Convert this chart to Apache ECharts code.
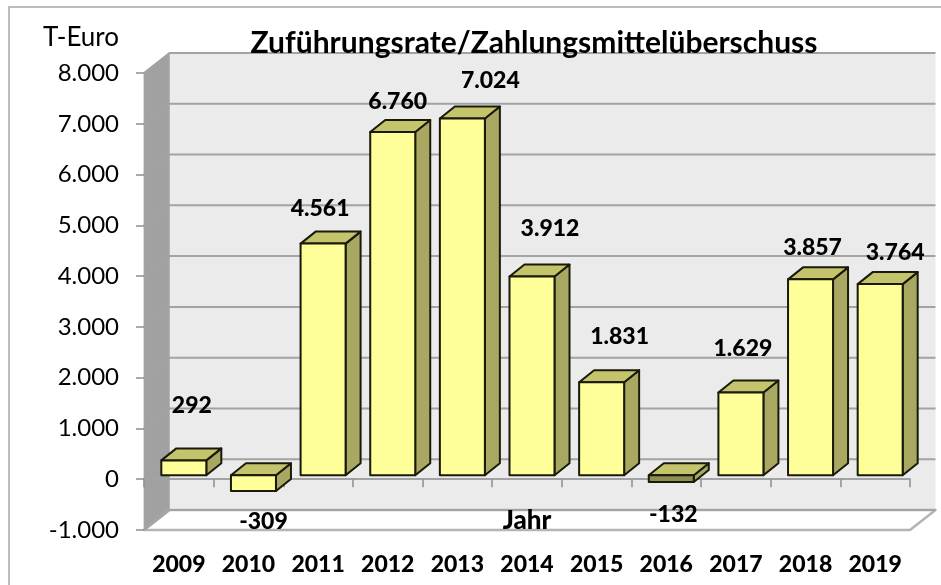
<!DOCTYPE html>
<html>
<head>
<meta charset="utf-8">
<script src="https://cdn.jsdelivr.net/npm/echarts@6/dist/echarts.min.js"></script>
<style>html,body{margin:0;padding:0;background:#fff}#c{width:941px;height:585px}</style>
</head>
<body>
<div id="c"></div>
<script>
const categories = ['2009','2010','2011','2012','2013','2014','2015','2016','2017','2018','2019'];
const values = [292,-309,4561,6760,7024,3912,1831,-132,1629,3857,3764];
const yTicks = [-1000,0,1000,2000,3000,4000,5000,6000,7000,8000];
const title = 'Zuführungsrate/Zahlungsmittelüberschuss';

// label placement relative to the value's point on the axes, in px
const labelOffsets = [[13,-59],[15,27],[2,-39],[10,-34],[33,-42],[23,-52],[23,-50],[7,29],[7,-48],[7,-36],[20,-36]];

const FONT = 'Lato, "Open Sans", sans-serif';
const WALL = [25.5, -20], BAR_DEPTH = [15, -12], BAR_SHIFT = [5, -4], BAR_W = 45;
const fmt = v => {
  const s = String(Math.abs(v)).replace(/\B(?=(\d{3})+$)/g, '.');
  return (v < 0 ? '-' : '') + s;
};
const poly = (points, fill, stroke, lw) => ({
  type: 'polygon', shape: { points },
  style: { fill, stroke: stroke || 'none', lineWidth: lw || 0, lineJoin: 'round' }
});

function renderWalls(params, api) {
  const cs = params.coordSys;
  const L = cs.x, R = cs.x + cs.width;
  const top = api.coord([0, 8000])[1], bot = api.coord([0, -1000])[1];
  const [dx, dy] = WALL;
  return { type: 'group', children: [
    poly([[L+dx,top+dy],[R+dx,top+dy],[R+dx,bot+dy],[L+dx,bot+dy]], '#ebebeb'),
    poly([[L,top],[L+dx,top+dy],[L+dx,bot+dy],[L,bot]], '#a1a1a1', '#b5b5b5', 1),
    poly([[L,bot],[L+dx,bot+dy],[R+dx,bot+dy],[R,bot]], '#ffffff', '#b4b4b4', 2.5)
  ]};
}
function renderGrid(params, api) {
  const cs = params.coordSys;
  const L = cs.x, R = cs.x + cs.width;
  const y = api.coord([0, api.value(0)])[1];
  const [dx, dy] = WALL;
  return { type: 'group', children: [
    { type: 'polyline', shape: { points: [[L, y],[L+dx, y+dy],[R+dx, y+dy]] },
      style: { fill: 'none', stroke: '#a3a3a3', lineWidth: 2 } }
  ]};
}
function renderBar(params, api) {
  const i = api.value(0), v = api.value(1);
  const c = api.coord([i, v]), z = api.coord([i, 0]);
  const x0 = c[0] + BAR_SHIFT[0] - BAR_W / 2, x1 = x0 + BAR_W;
  const yTop = Math.min(c[1], z[1]) + BAR_SHIFT[1], yBot = Math.max(c[1], z[1]) + BAR_SHIFT[1];
  const [dx, dy] = BAR_DEPTH;
  const st = '#1a1a0a', lw = 2;
  const frontFill = (yBot - yTop) < 8 ? '#8f8f55' : '#ffff99';
  return { type: 'group', children: [
    poly([[x1,yTop],[x1+dx,yTop+dy],[x1+dx,yBot+dy],[x1,yBot]], '#a8a862', st, lw),
    poly([[x0,yTop],[x0+dx,yTop+dy],[x1+dx,yTop+dy],[x1,yTop]], '#c4c46c', st, lw),
    poly([[x0,yTop],[x1,yTop],[x1,yBot],[x0,yBot]], frontFill, st, lw)
  ]};
}
function renderLabel(params, api) {
  const i = api.value(0), v = api.value(1);
  const c = api.coord([i, v]), o = labelOffsets[i];
  return { type: 'text', x: c[0] + o[0], y: c[1] + o[1],
    style: { text: fmt(v), font: '900 23px ' + FONT, fill: '#000', align: 'center', verticalAlign: 'middle' } };
}

const chart = echarts.init(document.getElementById('c'), null, { renderer: 'canvas' });
const barData = categories.map((_, i) => [i, values[i]]);
chart.setOption({
  animation: false,
  backgroundColor: '#fff',
  title: { text: title, left: 529, top: 23, textAlign: 'center',
    textStyle: { fontFamily: FONT, fontWeight: 'bold', fontSize: 30, color: '#000' } },
  grid: { left: 144, right: 31, top: 73, bottom: 55, containLabel: false, outerBoundsMode: 'none' },
  graphic: [{ type: 'rect', silent: true, z: -1,
    shape: { x: 9, y: 7, width: 1000, height: 700 },
    style: { fill: 'none', stroke: '#a8a8a8', lineWidth: 1.5 } }],
  xAxis: [
    { type: 'category', data: categories, z: 3,
      axisLine: { onZero: true, lineStyle: { color: '#a3a3a3', width: 2 } },
      axisTick: { show: true, length: 8, inside: false, lineStyle: { color: '#8e8e8e', width: 1.5 } },
      axisLabel: { show: false }, splitLine: { show: false } },
    { type: 'category', data: categories, position: 'bottom', z: 3,
      name: 'Jahr', nameLocation: 'middle', nameGap: -22, nameMoveOverlap: false,
      nameTextStyle: { fontFamily: FONT, fontWeight: 900, fontSize: 26, color: '#000' },
      axisLine: { show: false, onZero: false }, axisTick: { show: false },
      axisLabel: { margin: 23, fontFamily: FONT, fontWeight: 900, fontSize: 23, color: '#000', interval: 0 },
      splitLine: { show: false } }
  ],
  yAxis: { type: 'value', min: -1000, max: 8000, interval: 1000, z: 3,
    name: 'T-Euro', nameLocation: 'end', nameGap: 22,
    nameTextStyle: { fontFamily: FONT, fontSize: 26, color: '#000', align: 'right', padding: [0, 25, 0, 0] },
    axisLine: { show: true, lineStyle: { color: '#a3a3a3', width: 1 } },
    axisTick: { show: true, length: 8, lineStyle: { color: '#8e8e8e', width: 1.5 } },
    axisLabel: { margin: 25, fontFamily: FONT, fontSize: 24, color: '#000', formatter: fmt },
    splitLine: { show: false } },
  series: [
    { type: 'custom', z: 1, silent: true, data: [[0]], renderItem: renderWalls, encode: { x: -1, y: -1 } },
    { type: 'custom', z: 2, silent: true, data: yTicks.map(v => [v]), renderItem: renderGrid, encode: { y: 0, x: -1 } },
    { type: 'custom', z: 5, data: barData, renderItem: renderBar, encode: { x: 0, y: 1 } },
    { type: 'custom', z: 6, data: barData, renderItem: renderLabel, encode: { x: 0, y: 1 } }
  ]
});
</script>
</body>
</html>
